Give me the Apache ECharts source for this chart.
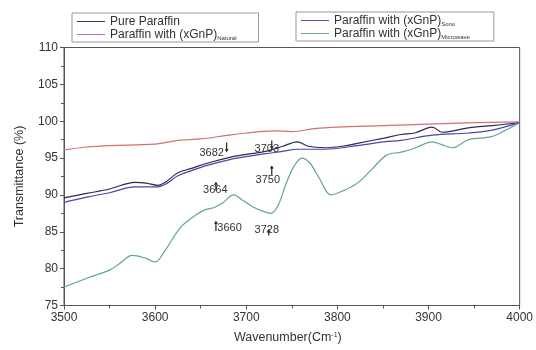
<!DOCTYPE html>
<html>
<head>
<meta charset="utf-8">
<script src="https://cdn.jsdelivr.net/npm/echarts@6/dist/echarts.min.js"></script>
<style>
  html, body { margin: 0; padding: 0; background: #fff; }
  #chart { width: 536px; height: 350px; }
</style>
</head>
<body>
<div id="chart"></div>
<script>
// FTIR transmittance spectra, 3500–4000 cm⁻¹
const wnPure = [3500, 3525, 3550, 3578, 3590, 3603, 3612, 3625, 3640, 3657, 3682, 3700, 3721, 3740, 3756, 3768, 3786, 3805, 3822, 3851, 3870, 3885, 3904, 3915, 3944, 3970, 4000];
const tPure  = [89.6, 90.2, 90.8, 91.7, 91.6, 91.3, 91.8, 93.0, 93.6, 94.3, 95.1, 95.5, 95.9, 96.6, 97.2, 96.6, 96.4, 96.6, 97.0, 97.7, 98.2, 98.4, 99.2, 98.5, 99.1, 99.4, 99.8];

const wnNatural = [3500, 3525, 3550, 3600, 3625, 3650, 3675, 3700, 3730, 3750, 3775, 3800, 3850, 3900, 3950, 4000];
const tNatural  = [96.1, 96.5, 96.7, 96.9, 97.4, 97.6, 98.0, 98.4, 98.7, 98.6, 99.0, 99.2, 99.4, 99.6, 99.8, 99.9];

const wnSono = [3500, 3525, 3550, 3578, 3590, 3603, 3612, 3625, 3640, 3657, 3682, 3700, 3721, 3740, 3756, 3786, 3822, 3851, 3870, 3904, 3944, 3970, 4000];
const tSono  = [89.0, 89.7, 90.3, 91.1, 91.1, 91.1, 91.5, 92.6, 93.3, 94.0, 94.8, 95.2, 95.6, 95.9, 96.2, 96.2, 96.7, 97.2, 97.4, 98.1, 98.4, 98.8, 99.8];

const wnMicro = [3500, 3525, 3550, 3560, 3575, 3590, 3600, 3610, 3628, 3645, 3655, 3665, 3675, 3686, 3697, 3707, 3718, 3727, 3735, 3743, 3752, 3761, 3770, 3780, 3793, 3805, 3822, 3838, 3854, 3870, 3886, 3904, 3915, 3926, 3944, 3969, 3985, 4000];
const tMicro  = [77.5, 78.7, 79.8, 80.6, 81.8, 81.4, 80.9, 82.3, 85.6, 87.3, 88.0, 88.3, 89.0, 90.0, 89.2, 88.4, 87.8, 87.5, 88.6, 91.3, 93.8, 95.0, 94.3, 92.3, 90.0, 90.5, 91.6, 93.5, 95.4, 95.8, 96.4, 97.2, 96.8, 96.4, 97.5, 97.9, 98.8, 99.8];

const xTicks = [3500, 3600, 3700, 3800, 3900, 4000];
const yTicks = [75, 80, 85, 90, 95, 100, 105, 110];

// peak callouts: arrow drawn from `from` to `to` (transmittance) at wavenumber `wn`
const peakNotes = [
  { text: '3682', wn: 3678.5, from: 97.1, to: 95.8, tx: 3662, ty: 95.7 },
  { text: '3664', wn: 3666.7, from: 90.6, to: 91.8, tx: 3666, ty: 90.7 },
  { text: '3703', wn: 3728.0, from: 97.4, to: 96.2, tx: 3722.6, ty: 96.2 },
  { text: '3750', wn: 3728.0, from: 92.7, to: 94.0, tx: 3723.7, ty: 92.0 },
  { text: '3660', wn: 3666.7, from: 85.1, to: 86.5, tx: 3681.7, ty: 85.5 },
  { text: '3728', wn: 3724.7, from: 84.5, to: 85.4, tx: 3722.6, ty: 85.3 }
];

const pairs = (xs, ys) => xs.map((x, i) => [x, ys[i]]);

const FONT = 'Liberation Sans, Arial, sans-serif';
const TXT = '#333';
const legendRich = {
  sub: { fontSize: 6, fontFamily: FONT, color: TXT, verticalAlign: 'bottom', padding: [7, 0, 0, 0] }
};
const legendNames = {
  'Pure Paraffin': 'Pure Paraffin',
  'Natural': 'Paraffin with (xGnP){sub|Natural}',
  'Sono': 'Paraffin with (xGnP){sub|Sono}',
  'Microwave': 'Paraffin with (xGnP){sub|Microwave}'
};

function lineSeries(name, xs, ys, color) {
  return {
    name: name,
    type: 'line',
    data: pairs(xs, ys),
    smooth: 0.35,
    symbol: 'none',
    lineStyle: { color: color, width: 1.2 },
    itemStyle: { color: color },
    emphasis: { disabled: true },
    animation: false
  };
}

const legendBase = {
  orient: 'vertical',
  icon: 'path://M0,0L30,0L30,1L0,1Z',
  itemWidth: 28,
  itemHeight: 1.2,
  itemGap: 0,
  borderColor: '#999',
  borderWidth: 1,
  selectedMode: false,
  textStyle: { fontFamily: FONT, fontSize: 12, color: TXT, lineHeight: 13, rich: legendRich },
  formatter: n => legendNames[n]
};

const chart = echarts.init(document.getElementById('chart'), null, { renderer: 'canvas' });

chart.setOption({
  animation: false,
  backgroundColor: '#fff',
  legend: [
    Object.assign({}, legendBase, { left: 72, top: 13, padding: [2, 22, 1, 5], data: ['Pure Paraffin', 'Natural'] }),
    Object.assign({}, legendBase, { left: 296, top: 12, padding: [2, 24, 1, 5], data: ['Sono', 'Microwave'] })
  ],
  grid: {
    left: 64, right: 8, top: 47.5, bottom: 44.5,
    show: true, borderColor: '#555', borderWidth: 1, backgroundColor: 'transparent'
  },
  xAxis: {
    type: 'value',
    min: xTicks[0], max: xTicks[xTicks.length - 1], interval: 100,
    name: 'Wavenumber(Cm{sup|-1})',
    nameLocation: 'middle', nameGap: 26,
    nameTextStyle: {
      fontFamily: FONT, fontSize: 12.5, color: TXT, padding: [0, 8, 0, 0],
      rich: { sup: { fontSize: 7, fontFamily: FONT, color: TXT, verticalAlign: 'top', padding: [0, 0, 6, 0] } }
    },
    axisLine: { lineStyle: { color: '#555', width: 1 } },
    axisTick: { length: 4, lineStyle: { color: '#555' } },
    minorTick: { show: true, splitNumber: 2, length: 3, lineStyle: { color: '#555' } },
    splitLine: { show: false },
    axisLabel: { fontFamily: FONT, fontSize: 12, color: TXT, margin: 6, formatter: v => String(v) }
  },
  yAxis: {
    type: 'value',
    min: yTicks[0], max: yTicks[yTicks.length - 1], interval: 5,
    name: 'Transmittance (%)',
    nameLocation: 'middle', nameGap: 38,
    nameTextStyle: { fontFamily: FONT, fontSize: 12.5, color: TXT },
    axisLine: { show: true, lineStyle: { color: '#555', width: 1 } },
    axisTick: { show: true, length: 4, lineStyle: { color: '#555' } },
    minorTick: { show: true, splitNumber: 2, length: 3, lineStyle: { color: '#555' } },
    splitLine: { show: false },
    axisLabel: { fontFamily: FONT, fontSize: 12, color: TXT, margin: 6, formatter: v => String(v) }
  },
  series: [
    lineSeries('Pure Paraffin', wnPure, tPure, '#2b2b55'),
    lineSeries('Natural', wnNatural, tNatural, '#d07272'),
    lineSeries('Sono', wnSono, tSono, '#4a46a8'),
    lineSeries('Microwave', wnMicro, tMicro, '#62a595')
  ]
});

// peak callouts placed through the axis scales
function drawNotes() {
  const px = p => chart.convertToPixel({ xAxisIndex: 0, yAxisIndex: 0 }, p);
  const elements = [];
  peakNotes.forEach(n => {
    const a = px([n.wn, n.from]);
    const b = px([n.wn, n.to]);
    const dir = b[1] > a[1] ? 1 : -1;
    elements.push({
      type: 'line', silent: true,
      shape: { x1: a[0], y1: a[1], x2: b[0], y2: b[1] - dir * 2 },
      style: { stroke: '#222', lineWidth: 1.2 }
    });
    elements.push({
      type: 'polygon', silent: true,
      shape: { points: [[b[0] - 2, b[1] - dir * 3], [b[0] + 2, b[1] - dir * 3], [b[0], b[1]]] },
      style: { fill: '#222' }
    });
    const t = px([n.tx, n.ty]);
    elements.push({
      type: 'text', silent: true, x: t[0], y: t[1],
      style: { text: n.text, fontFamily: FONT, fontSize: 11, fill: TXT, align: 'center', verticalAlign: 'middle' }
    });
  });
  chart.setOption({ graphic: elements });
}
drawNotes();
</script>
</body>
</html>
